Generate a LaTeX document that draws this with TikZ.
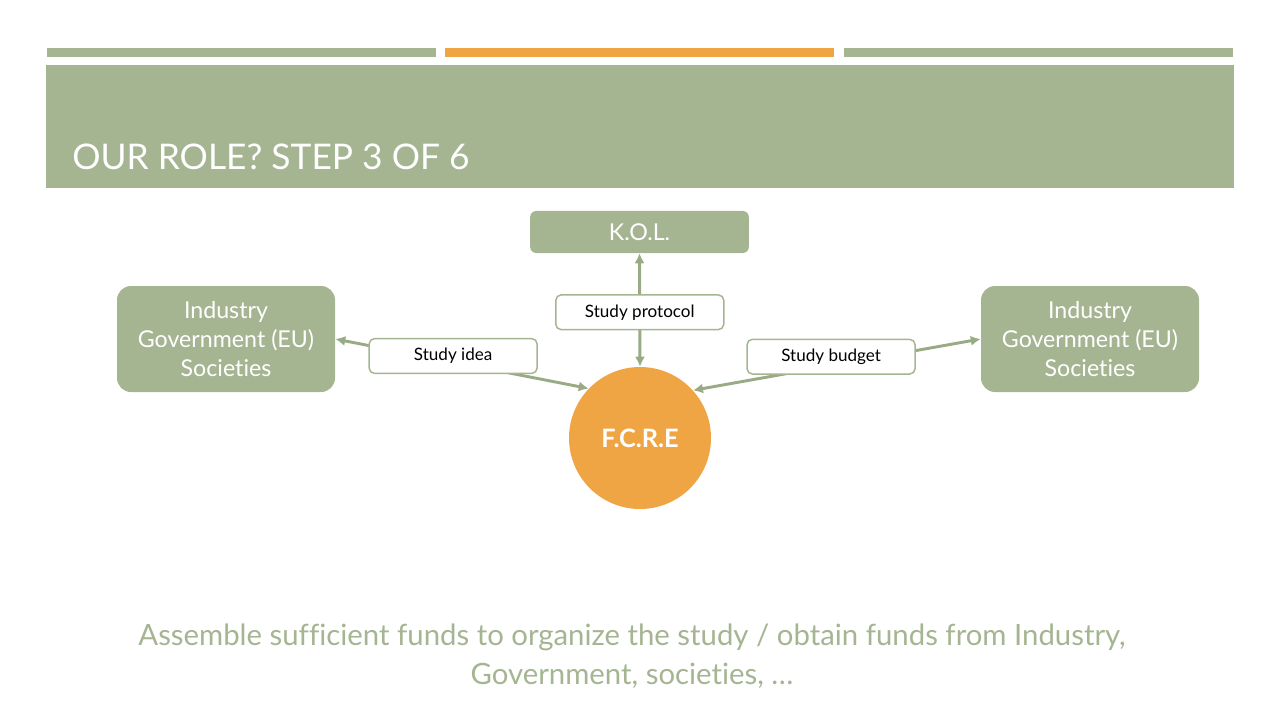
\documentclass[tikz,border=0pt]{standalone}
\usepackage{fontspec}
\setmainfont{Lato}[Ligatures=NoCommon]
\usepackage{tikz}
\usetikzlibrary{arrows.meta}

\definecolor{sage}{HTML}{A5B592}
\definecolor{sagedark}{HTML}{98AB85}
\definecolor{amber}{HTML}{F0A545}

\begin{document}
\begin{tikzpicture}[x=0.75pt, y=-0.75pt,
  box/.style={fill=sage, rounded corners=10.5pt, minimum width=163.5pt, minimum height=79.5pt, text=white, align=center, font=\fontsize{17.4}{21.75}\selectfont},
  tag/.style={draw=sage, line width=1.1pt, fill=white, rounded corners=4pt, minimum width=126pt, minimum height=26pt, inner sep=0pt, font=\fontsize{12.8}{14}\selectfont},
  link/.style={draw=sagedark, line width=2.2pt, <->, >={Latex[length=7.5pt,width=7.5pt]}}]
\useasboundingbox (0,0) rectangle (1280,720);

% top bars and title band
\fill[sage] (47,48) rectangle (436,57);
\fill[amber] (445,48) rectangle (834,57);
\fill[sage] (844,48) rectangle (1233,57);
\fill[sage] (46,65) rectangle (1234,188);
\node[anchor=base west, text=white, inner sep=0pt, font=\fontsize{26.5}{30}\selectfont] (title) at (72,170) {OUR ROLE? STEP 3 OF 6};

% nodes
\node[box, rounded corners=4.5pt, minimum height=31.5pt, minimum width=164pt] (kol) at (639.5,232) {K.O.L.};
\node[box] (left) at (226,339) {Industry\\Government (EU)\\Societies};
\node[box] (right) at (1090,339) {Industry\\Government (EU)\\Societies};
\node[circle, fill=amber, minimum size=106.5pt, text=white, font=\fontsize{19}{22}\selectfont\bfseries] (fcre) at (640,438) {F.C.R.E};

% connectors with labels
\draw[link] (kol.south) -- node[tag, pos=0.52] (protocol) {Study protocol} (fcre.north);
\draw[link] (left.east) -- node[tag, pos=0.465, yshift=4.5pt] (idea) {Study idea} (fcre.136);
\draw[link] (right.west) -- node[tag, pos=0.52, yshift=6.75pt] (budget) {Study budget} (fcre.42);

% bottom text
\node[text=sage, align=center, font=\fontsize{22}{29.5}\selectfont] (note) at (632,656) {Assemble sufficient funds to organize the study / obtain funds from Industry,\\Government, societies, \dots};
\end{tikzpicture}
\end{document}
